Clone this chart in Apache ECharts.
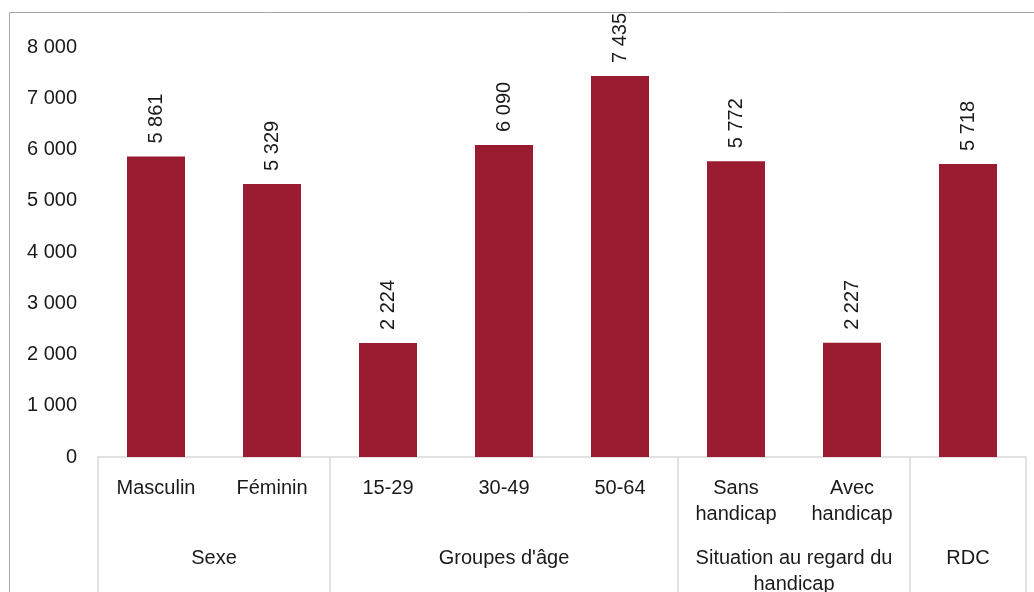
<!DOCTYPE html>
<html>
<head>
<meta charset="utf-8">
<script src="https://cdn.jsdelivr.net/npm/echarts@6/dist/echarts.min.js"></script>
<style>
html,body{margin:0;padding:0;background:#fff;}
#chart{width:1034px;height:592px;}
</style>
</head>
<body>
<div id="chart"></div>
<script>
const categories = ['Masculin', 'Féminin', '15-29', '30-49', '50-64', 'Sans\nhandicap', 'Avec\nhandicap', ''];
const values = [5861, 5329, 2224, 6090, 7435, 5772, 2227, 5718];
const groupNames = ['Sexe', "Groupes d'âge", 'Situation au regard du\nhandicap', 'RDC'];
const groupSizes = [2, 3, 2, 1];
const yTicks = [0, 1000, 2000, 3000, 4000, 5000, 6000, 7000, 8000];

const FONT = '"Liberation Sans Narrow", "Arial Narrow", "Liberation Sans", Arial, sans-serif';
const FS = 20;
const fmt = v => String(v).replace(/\B(?=(\d{3})+(?!\d))/g, ' ');

const boundaries = [0];
groupSizes.forEach(s => boundaries.push(boundaries[boundaries.length - 1] + s));
const centers = groupSizes.map((s, i) => boundaries[i] + s / 2);
const centerName = {};
centers.forEach((c, i) => { centerName[c] = groupNames[i]; });

const chart = echarts.init(document.getElementById('chart'), null, {renderer: 'canvas'});
chart.setOption({
  animation: false,
  backgroundColor: '#fff',
  graphic: [{
    type: 'rect', silent: true,
    shape: {x: 9.5, y: 12.5, width: 1100, height: 700},
    style: {fill: 'none', stroke: '#a6a6a6', lineWidth: 1}
  }],
  grid: {left: 98, right: 8, top: 47, bottom: 135, containLabel: false, outerBoundsMode: 'none'},
  xAxis: [{
    type: 'category',
    data: categories,
    axisLine: {show: false},
    axisTick: {show: false},
    axisLabel: {interval: 0, margin: 18, fontSize: FS, lineHeight: 26, color: '#1a1a1a', fontFamily: FONT}
  }, {
    type: 'value',
    min: 0,
    max: categories.length,
    position: 'bottom',
    axisLine: {show: true, lineStyle: {color: '#d9d9d9', width: 1.5}},
    axisTick: {show: true, customValues: boundaries, length: 140, lineStyle: {color: '#d9d9d9', width: 1.5}},
    axisLabel: {
      customValues: centers, margin: 88, fontSize: FS, lineHeight: 26, color: '#1a1a1a', fontFamily: FONT,
      formatter: v => centerName[v] || ''
    },
    splitLine: {show: false}
  }],
  yAxis: {
    type: 'value',
    min: yTicks[0], max: yTicks[yTicks.length - 1], interval: 1000,
    axisLine: {show: false}, axisTick: {show: false},
    splitLine: {show: false},
    axisLabel: {margin: 21, fontSize: FS, color: '#1a1a1a', fontFamily: FONT, formatter: v => fmt(v)}
  },
  series: [{
    type: 'bar',
    xAxisIndex: 0,
    data: values,
    barWidth: '50%',
    itemStyle: {color: '#9a1b2f'},
    label: {
      show: true, position: 'top', rotate: 90, distance: 13,
      align: 'left', verticalAlign: 'middle',
      fontSize: FS, color: '#1a1a1a', fontFamily: FONT,
      formatter: p => fmt(p.value)
    }
  }]
});
</script>
</body>
</html>
